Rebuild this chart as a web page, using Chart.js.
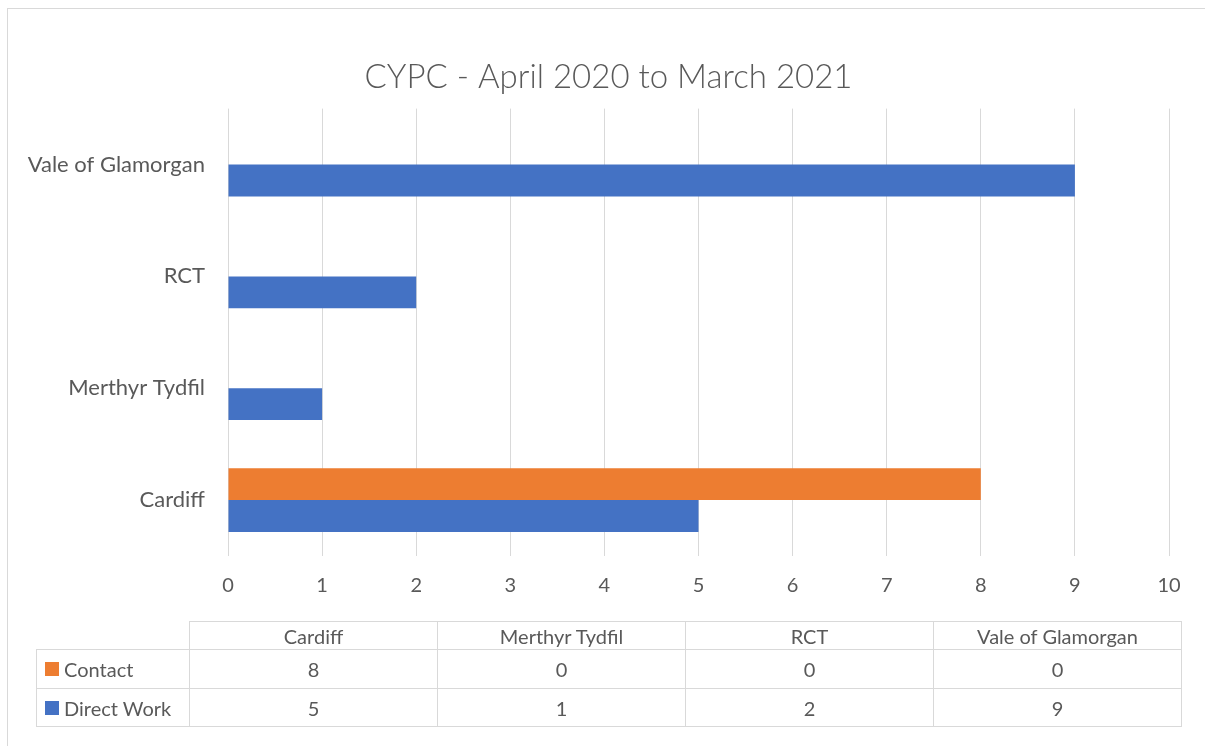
<!DOCTYPE html>
<html>
<head>
<meta charset="utf-8">
<script src="https://cdn.jsdelivr.net/npm/chart.js@4"></script>
<style>
  html, body { margin: 0; padding: 0; background: #fff; }
  body { width: 1205px; height: 746px; position: relative; overflow: hidden; font-family: Lato, "Open Sans", sans-serif; }
  #rahmen { position: absolute; left: 7px; top: 8px; width: 1300px; height: 800px; border-left: 1px solid #d9d9d9; border-top: 1px solid #d9d9d9; }
  #leinwand { position: absolute; left: 0; top: 0; }
  #tabelle { position: absolute; left: 0; top: 0; width: 1205px; height: 746px; pointer-events: none; }
  .zelle { position: absolute; box-sizing: border-box; border: 1px solid #d9d9d9; color: #595959; font-size: 20px; display: flex; align-items: center; justify-content: center; }
  .legende { justify-content: flex-start; padding-left: 8px; }
  .quadrat { display: inline-block; width: 14px; height: 14px; margin-right: 5px; }
</style>
</head>
<body>
<div id="rahmen"></div>
<canvas id="leinwand" width="1205" height="746"></canvas>
<div id="tabelle"></div>
<script>
// Daten
const kategorien = ['Cardiff', 'Merthyr Tydfil', 'RCT', 'Vale of Glamorgan'];
const kontakt = [8, 0, 0, 0];
const direkteArbeit = [5, 1, 2, 9];
const serienNamen = ['Contact', 'Direct Work'];
const farben = { kontakt: '#ED7D31', direkt: '#4472C4' };
const titel = 'CYPC - April 2020 to March 2021';

const grau = '#595959';
const gitter = '#d9d9d9';

const ctx = document.getElementById('leinwand').getContext('2d');
const grafik = new Chart(ctx, {
    type: 'bar',
    data: {
        labels: kategorien,
        datasets: [
            {
                label: serienNamen[0],
                data: kontakt,
                backgroundColor: farben.kontakt,
                borderWidth: 0,
                barPercentage: 1,
                categoryPercentage: 0.57
            },
            {
                label: serienNamen[1],
                data: direkteArbeit,
                backgroundColor: farben.direkt,
                borderWidth: 0,
                barPercentage: 1,
                categoryPercentage: 0.57
            }
        ]
    },
    options: {
        indexAxis: 'y',
        responsive: false,
        animation: false,
        layout: {
            padding: { left: 12, right: 0, top: 0, bottom: 140 }
        },
        plugins: {
            legend: { display: false },
            tooltip: { enabled: false },
            title: {
                display: true,
                text: titel,
                color: grau,
                font: { family: 'Lato', size: 33, weight: '300' },
                padding: { top: 58, bottom: 11 }
            }
        },
        scales: {
            x: {
                min: 0,
                max: 10,
                ticks: {
                    stepSize: 1,
                    color: grau,
                    font: { family: 'Lato', size: 20 },
                    padding: 18
                },
                grid: { color: gitter, lineWidth: 1, drawTicks: false },
                border: { display: false },
                afterFit: function (skala) { skala.height = 50; }
            },
            y: {
                reverse: true,
                ticks: {
                    color: grau,
                    font: { family: 'Lato', size: 22 },
                    padding: 23
                },
                grid: { display: false, drawTicks: false },
                border: { display: false },
                afterFit: function (skala) { skala.width = 216; }
            },
            rechts: {
                type: 'linear',
                position: 'right',
                ticks: { display: false },
                grid: { display: false, drawTicks: false },
                border: { display: false },
                afterFit: function (skala) { skala.width = 36; }
            }
        }
    }
});

// Datentabelle unter dem Diagramm
const tabelle = document.getElementById('tabelle');
function zelle(x, y, b, h, inhalt, klasse) {
    const d = document.createElement('div');
    d.className = 'zelle' + (klasse ? ' ' + klasse : '');
    d.style.left = x + 'px';
    d.style.top = y + 'px';
    d.style.width = b + 'px';
    d.style.height = h + 'px';
    d.innerHTML = inhalt;
    tabelle.appendChild(d);
}
const spaltenStart = 189, spaltenBreite = 248;
const kopfOben = 621, zeile1 = 649, zeile2 = 688, zeilenHoehe = 39;
kategorien.forEach(function (k, i) {
    const x = spaltenStart + i * spaltenBreite;
    zelle(x, kopfOben, spaltenBreite + 1, 29, k);
    zelle(x, zeile1, spaltenBreite + 1, zeilenHoehe + 1, kontakt[i]);
    zelle(x, zeile2, spaltenBreite + 1, zeilenHoehe, direkteArbeit[i]);
});
zelle(36, zeile1, spaltenStart - 36 + 1, zeilenHoehe + 1,
    '<span class="quadrat" style="background:' + farben.kontakt + '"></span>' + serienNamen[0], 'legende');
zelle(36, zeile2, spaltenStart - 36 + 1, zeilenHoehe,
    '<span class="quadrat" style="background:' + farben.direkt + '"></span>' + serienNamen[1], 'legende');
</script>
</body>
</html>
